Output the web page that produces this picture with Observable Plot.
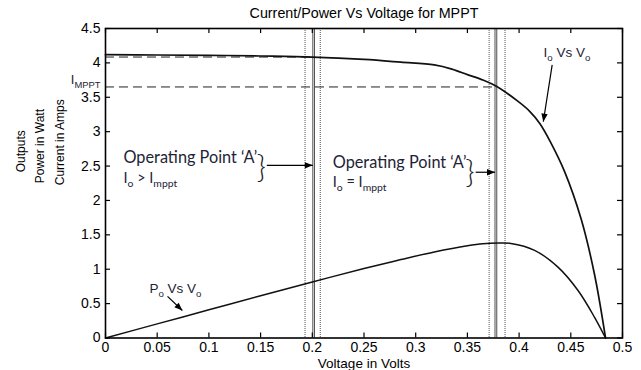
<!DOCTYPE html>
<html><head><meta charset="utf-8">
<script src="https://cdn.jsdelivr.net/npm/d3@7"></script>
<script src="https://cdn.jsdelivr.net/npm/@observablehq/plot@0.6"></script>
<style>body{margin:0;background:#fff} svg{display:block}</style>
</head><body><div id="chart"></div>
<script>
// ---- data ----
const titleText = "Current/Power Vs Voltage for MPPT";
const xLabel = "Voltage in Volts";
const yLabelLines = ["Outputs", "Power in Watt", "Current in Amps"];
const xTicks = [0, 0.05, 0.1, 0.15, 0.2, 0.25, 0.3, 0.35, 0.4, 0.45, 0.5];
const yTicks = [0, 0.5, 1, 1.5, 2, 2.5, 3, 3.5, 4, 4.5];

// I-V curve
const voltageI = [0, 0.05, 0.1, 0.15, 0.2, 0.25, 0.2857, 0.318, 0.335, 0.35, 0.365, 0.378, 0.399, 0.41, 0.42, 0.43, 0.444, 0.46, 0.473, 0.4836];
const currentI = [4.12, 4.115, 4.11, 4.1, 4.085, 4.05, 4.01, 3.97, 3.91, 3.83, 3.75, 3.66, 3.44, 3.3, 3.12, 2.86, 2.42, 1.73, 0.92, 0];
// P-V curve
const voltageP = [0, 0.05, 0.1, 0.15, 0.2, 0.25, 0.2857, 0.318, 0.35, 0.365, 0.38, 0.392, 0.415, 0.4376, 0.457, 0.473, 0.4836];
const powerP = [0, 0.205, 0.41, 0.615, 0.815, 1.01, 1.14, 1.25, 1.34, 1.37, 1.38, 1.375, 1.275, 1.03, 0.69, 0.30, 0];

// operating point lines
const solidV = [0.2005, 0.2021, 0.3767, 0.3784];
const dottedV = [0.193, 0.2077, 0.371, 0.3864];
// dashed horizontal references
const dashY = [3.65, 4.085];
const dashX2 = [0.378, 0.2];
const imppt = 3.65;

// annotations
const noteText = ["Operating Point ‘A’", "I_{o} > I_{mppt}", "Operating Point ‘A’", "I_{o} = I_{mppt}"];
const noteX = [0.0174, 0.0174, 0.2198, 0.2198];
const noteY = [2.617, 2.325, 2.544, 2.267];
const braceX = [0.1505, 0.3525];
const braceY = [2.48, 2.40];
const curveLabels = ["I_{o} Vs V_{o}", "P_{o} Vs V_{o}"];
const curveLabelX = [0.4237, 0.0425];
const curveLabelY = [4.15, 0.72];
const arrowX1 = [0.156, 0.358, 0.432, 0.060];
const arrowY1 = [2.51, 2.41, 3.97, 0.605];
const arrowX2 = [0.2005, 0.3767, 0.4234, 0.0743];
const arrowY2 = [2.51, 2.41, 3.146, 0.40];

// ---- build tables ----
const iv = voltageI.map((v, i) => ({v, y: currentI[i]}));
const pv = voltageP.map((v, i) => ({v, y: powerP[i]}));
const dashes = dashY.map((y, i) => ({y, x1: 0, x2: dashX2[i]}));
const notes = noteText.map((t, i) => ({t, x: noteX[i], y: noteY[i]}));
const braces = braceX.map((x, i) => ({x, y: braceY[i]}));
const clabels = curveLabels.map((t, i) => ({t, x: curveLabelX[i], y: curveLabelY[i]}));
const arrows = arrowX1.map((x1, i) => ({x1, y1: arrowY1[i], x2: arrowX2[i], y2: arrowY2[i]}));

const W = 641, H = 370, mL = 105, mR = 19, mT = 28, mB = 32.5;
const pw = W - mL - mR, ph = H - mT - mB;
const annFont = "Lato, 'Open Sans', sans-serif";
const annColor = "#1e2436";
const fmt = d => String(d);

const chart = Plot.plot({
  width: W, height: H,
  marginLeft: mL, marginRight: mR, marginTop: mT, marginBottom: mB,
  style: {fontFamily: "'Liberation Sans', Arial, sans-serif", fontSize: "14px", color: "black", background: "white"},
  x: {domain: [0, 0.5], ticks: xTicks},
  y: {domain: [0, 4.5], ticks: yTicks},
  marks: [
    Plot.ruleX(dottedV, {x: d => d, stroke: "#555", strokeWidth: 1, strokeDasharray: "1,1"}),
    Plot.ruleX(solidV, {x: d => d, stroke: "#222", strokeWidth: 0.8}),
    Plot.ruleY(dashes, {y: "y", x1: "x1", x2: "x2", stroke: "#222", strokeWidth: 1, strokeDasharray: "9,5"}),
    Plot.line(iv, {x: "v", y: "y", stroke: "#111", strokeWidth: 1.7, curve: "catmull-rom"}),
    Plot.line(pv, {x: "v", y: "y", stroke: "#111", strokeWidth: 1.5, curve: "catmull-rom"}),
    // axes: labels only, ticks drawn inward below
    Plot.axisX(xTicks, {anchor: "bottom", tickSize: 0, tickPadding: 4, fontSize: 14, label: null, tickFormat: fmt}),
    Plot.axisY(yTicks, {anchor: "left", tickSize: 0, tickPadding: 5, fontSize: 14, label: null, tickFormat: fmt}),
    Plot.tickX(xTicks, {x: d => d, insetTop: ph - 5, stroke: "black", strokeWidth: 1.2}),
    Plot.tickX(xTicks, {x: d => d, insetBottom: ph - 5, stroke: "black", strokeWidth: 1.2}),
    Plot.tickY(yTicks, {y: d => d, insetRight: pw - 5, stroke: "black", strokeWidth: 1.2}),
    Plot.tickY(yTicks, {y: d => d, insetLeft: pw - 5, stroke: "black", strokeWidth: 1.2}),
    Plot.frame({stroke: "black", strokeWidth: 1.6}),
    // titles
    Plot.text([titleText], {frameAnchor: "top", dy: -15, lineAnchor: "middle", fontSize: 14.3, text: d => d}),
    Plot.text([xLabel], {frameAnchor: "bottom", dy: 25.5, lineAnchor: "middle", fontSize: 13.5, text: d => d}),
    Plot.text([yLabelLines[0]], {frameAnchor: "left", dx: -84, dy: -11, rotate: -90, fontSize: 12, text: d => d}),
    Plot.text([yLabelLines[1]], {frameAnchor: "left", dx: -65, dy: 0, rotate: -90, fontSize: 12, text: d => d}),
    Plot.text([yLabelLines[2]], {frameAnchor: "left", dx: -45, dy: 2, rotate: -90, fontSize: 12, text: d => d}),
    // IMPPT label
    Plot.text(["I_{MPPT}"], {x: 0, y: imppt, dx: -5, dy: -3, textAnchor: "end", lineAnchor: "bottom", fontSize: 13, fill: annColor, text: d => d}),
    // annotations
    Plot.text(notes.filter((d, i) => i % 2 === 0), {x: "x", y: "y", text: "t", textAnchor: "start", fontFamily: annFont, fontSize: 16.3, fill: annColor}),
    Plot.text(notes.filter((d, i) => i % 2 === 1), {x: "x", y: "y", text: "t", textAnchor: "start", fontFamily: annFont, fontSize: 14.5, fill: annColor}),
    Plot.text(braces, {x: "x", y: "y", text: () => "}", fontFamily: annFont, fontWeight: 300, fontSize: 32, fill: "#222"}),
    Plot.text(clabels, {x: "x", y: "y", text: "t", textAnchor: "start", fontSize: 13.5, fill: annColor}),
    Plot.link(arrows, {x1: "x1", y1: "y1", x2: "x2", y2: "y2", stroke: "black", strokeWidth: 1.2, className: "annot-arrow"})
  ]
});

document.getElementById("chart").appendChild(chart);

// filled arrowheads
const svg = d3.select(chart);
const defs = svg.append("defs");
defs.append("marker").attr("id", "fillarrow").attr("viewBox", "0 0 10 10")
  .attr("refX", 10).attr("refY", 5).attr("markerWidth", 9).attr("markerHeight", 8)
  .attr("markerUnits", "userSpaceOnUse").attr("orient", "auto")
  .append("path").attr("d", "M0,1L10,5L0,9Z").attr("fill", "black");
svg.selectAll("g.annot-arrow path").attr("marker-end", "url(#fillarrow)");

// subscripts: "_{...}"
svg.selectAll("text").each(function () {
  const el = this;
  if (el.children.length) return;
  const s = el.textContent;
  if (!s.includes("_{")) return;
  const fs = parseFloat(getComputedStyle(el).fontSize) || 13;
  el.textContent = "";
  let shifted = false;
  for (const p of s.split(/(_\{[^}]*\})/)) {
    if (!p) continue;
    const t = document.createElementNS("http://www.w3.org/2000/svg", "tspan");
    if (p.startsWith("_{")) {
      t.textContent = p.slice(2, -1);
      t.setAttribute("font-size", (fs * 0.72).toFixed(1));
      t.setAttribute("dy", (fs * 0.3).toFixed(1));
      shifted = true;
    } else {
      t.textContent = p;
      if (shifted) { t.setAttribute("dy", (-fs * 0.3).toFixed(1)); shifted = false; }
    }
    el.appendChild(t);
  }
});
</script>
</body></html>
